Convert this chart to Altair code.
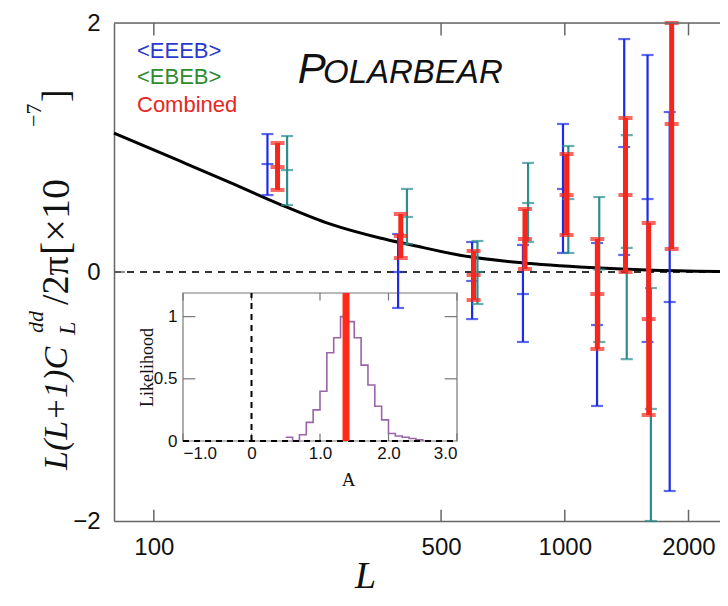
import altair as alt
import pandas as pd

# ---------------- main panel data ----------------
L_DOMAIN = [80, 2386]
V_DOMAIN = [-2, 2]
L_TICKS = [100, 500, 1000, 2000]
V_TICKS = [-2, 0, 2]

curve_L = [80, 116, 153, 202, 268, 355, 426, 556, 750, 1087, 1586, 2386]
curve_V = [1.116, 0.89, 0.72, 0.546, 0.386, 0.273, 0.215, 0.135, 0.08, 0.04, 0.016, 0.004]

blue_L = [189, 393, 595, 791, 990, 1198, 1395, 1590, 1800]
blue_lo = [0.618, -0.289, -0.378, -0.562, 0.153, -1.076, 0.137, -0.562, -1.759]
blue_mid = [0.867, 0.0, -0.072, -0.177, 0.667, -0.426, 1.004, 0.586, -0.241]
blue_hi = [1.108, 0.305, 0.241, 0.217, 1.189, 0.233, 1.871, 1.743, 1.285]

teal_L = [211, 413, 613, 814, 1020, 1213, 1415, 1620]
teal_lo = [0.538, 0.225, -0.257, 0.241, 0.153, -0.562, -0.699, -2.0]
teal_mid = [0.819, 0.442, 0.0, 0.554, 0.586, 0.02, 0.193, -1.1]
teal_hi = [1.092, 0.667, 0.249, 0.876, 1.012, 0.602, 1.100, -0.129]

red_L = [200, 399, 600, 800, 1010, 1200, 1405, 1600, 1820]
red_lo = [0.659, 0.112, -0.225, 0.024, 0.297, -0.618, 0.0, -1.149, 0.185]
red_mid = [0.843, 0.289, -0.024, 0.265, 0.618, -0.177, 0.618, -0.378, 1.189]
red_hi = [1.036, 0.466, 0.169, 0.506, 0.948, 0.265, 1.237, 0.394, 2.0]

legend_labels = ["<EEEB>", "<EBEB>", "Combined"]
legend_colors = ["#2a3ad0", "#2e8c2e", "#e8261e"]
legend_L = [91, 91, 91]
legend_V = [1.775, 1.566, 1.341]

title_parts = ["P", "OLARBEAR"]
title_L = [224, 258]
title_V = [1.518, 1.518]
title_sizes = [42, 33]

# ---------------- inset data ----------------
A_DOMAIN = [-1, 3]
H_DOMAIN = [0, 1.19]
A_TICKS = [-1, 0, 1, 2, 3]
H_TICKS = [0, 0.5, 1]
hist_A = [0.5, 0.6, 0.7, 0.8, 0.9, 1.0, 1.1, 1.2, 1.3, 1.4, 1.5, 1.6, 1.7,
          1.8, 1.9, 2.0, 2.1, 2.2, 2.3, 2.4, 2.5]
hist_h = [0.03, 0.0, 0.05, 0.15, 0.25, 0.40, 0.71, 0.83, 1.0, 0.96, 0.83, 0.61,
          0.45, 0.28, 0.17, 0.06, 0.04, 0.03, 0.02, 0.01, 0.0]
A_best = [1.38]

BLUE = "#1d2be6"
TEAL = "#2b8d8d"
RED = "#f5271c"
FRAME = "#666666"

PLOT_W = 606
PLOT_H = 498

# ---------------- scales / axes ----------------
xs = alt.Scale(type="log", domain=L_DOMAIN, nice=False)
ys = alt.Scale(domain=V_DOMAIN, nice=False, zero=False)

ax_x = alt.Axis(values=L_TICKS, format="d", ticks=False, grid=False, orient="bottom",
                domainColor=FRAME, domainWidth=1.5,
                labelFont="Liberation Sans", labelFontSize=24, labelColor="#111",
                labelPadding=14,
                title="L", titleFont="Liberation Serif", titleFontStyle="italic",
                titleFontWeight="normal", titleFontSize=38, titleColor="#111",
                titleX=251, titleY=66, titleBaseline="alphabetic", titleAlign="center")
ax_y = alt.Axis(values=V_TICKS, format="d", ticks=False, grid=False, orient="left",
                domainColor=FRAME, domainWidth=1.5,
                labelFont="Liberation Sans", labelFontSize=24, labelColor="#111",
                labelPadding=14, title="")

X = lambda f: alt.X(f, scale=xs, axis=ax_x)
Y = lambda f: alt.Y(f, scale=ys, axis=ax_y)

# frame top line, zero line, inward ticks
frame_df = pd.DataFrame({"L": [L_DOMAIN[0]], "L2": [L_DOMAIN[1]], "v": [V_DOMAIN[1]]})
top_line = alt.Chart(frame_df).mark_rule(color=FRAME, strokeWidth=1.5).encode(
    x=X("L:Q"), x2="L2:Q", y=Y("v:Q"))
zero_df = pd.DataFrame({"L": [L_DOMAIN[0]], "L2": [L_DOMAIN[1]], "v": [0]})
zero_line = alt.Chart(zero_df).mark_rule(color="#333", strokeWidth=2, strokeDash=[7, 6]).encode(
    x=X("L:Q"), x2="L2:Q", y=Y("v:Q"))

tick_rows = []
for t in L_TICKS:
    tick_rows.append({"L": t, "v": V_DOMAIN[1], "v2": V_DOMAIN[1] - 0.1})
    tick_rows.append({"L": t, "v": V_DOMAIN[0], "v2": V_DOMAIN[0] + 0.09})
xticks = alt.Chart(pd.DataFrame(tick_rows)).mark_rule(color=FRAME, strokeWidth=1.5).encode(
    x=X("L:Q"), y=Y("v:Q"), y2="v2:Q")
yticks = alt.Chart(pd.DataFrame({"L": [L_DOMAIN[0]], "L2": [85], "v": [0]})).mark_rule(
    color=FRAME, strokeWidth=1.5).encode(x=X("L:Q"), x2="L2:Q", y=Y("v:Q"))

curve = alt.Chart(pd.DataFrame({"L": curve_L, "v": curve_V})).mark_line(
    color="black", strokeWidth=3, interpolate="monotone").encode(x=X("L:Q"), y=Y("v:Q"))


def errbar(Ls, lo, mid, hi, color, lw, capw, capt):
    df = pd.DataFrame({"L": Ls, "lo": lo, "mid": mid, "hi": hi})
    rule = alt.Chart(df).mark_rule(color=color, strokeWidth=lw).encode(
        x=X("L:Q"), y=Y("lo:Q"), y2="hi:Q")
    caps = alt.Chart(df).transform_fold(["lo", "mid", "hi"], as_=["k", "v"]).mark_tick(
        color=color, orient="horizontal", size=capw, thickness=capt).encode(
        x=X("L:Q"), y=Y("v:Q"))
    return [rule, caps]


bars = (errbar(blue_L, blue_lo, blue_mid, blue_hi, BLUE, 2.2, 12, 2.2)
        + errbar(teal_L, teal_lo, teal_mid, teal_hi, TEAL, 2.2, 12, 2.2)
        + errbar(red_L, red_lo, red_mid, red_hi, RED, 5, 14, 4))

legend = alt.Chart(pd.DataFrame({"L": legend_L, "v": legend_V, "t": legend_labels,
                                 "c": legend_colors})).mark_text(
    align="left", baseline="middle", font="Liberation Sans", fontSize=22).encode(
    x=X("L:Q"), y=Y("v:Q"), text="t:N", color=alt.Color("c:N", scale=None))

title = alt.Chart(pd.DataFrame({"L": title_L, "v": title_V, "t": title_parts,
                                "s": title_sizes})).mark_text(
    align="left", baseline="alphabetic", font="Liberation Sans", fontStyle="italic",
    color="#111").encode(
    x=X("L:Q"), y=Y("v:Q"), text="t:N", size=alt.Size("s:Q", scale=None))

# y-axis title built from pieces (rotated), positions in plot pixels
yt_text = ["L(L+1)C", "L", "dd", "/2\u03c0", "[\u00d710", "\u22127", "]"]
yt_x = [-57, -46, -78, -57, -57, -80, -57]
yt_y = [447, 312, 310, 282, 232, 104, 79]
yt_size = [34, 24, 22, 38, 40, 22, 38]
yt_style = ["italic", "italic", "italic", "normal", "normal", "normal", "normal"]
ytitle = []
for t, px, py, s, st in zip(yt_text, yt_x, yt_y, yt_size, yt_style):
    ytitle.append(alt.Chart(pd.DataFrame({"t": [t]})).mark_text(
        angle=270, align="left", baseline="middle", font="Liberation Serif",
        fontStyle=st, fontSize=s, color="#111").encode(
        x=alt.value(px), y=alt.value(py), text="t:N"))

main = alt.layer(zero_line, curve, *bars, top_line, xticks, yticks, legend, title, *ytitle)

# ---------------- inset ----------------
xi = alt.Scale(domain=A_DOMAIN, range=[69, 343], nice=False, zero=False)
yi = alt.Scale(domain=H_DOMAIN, range=[418, 270], nice=False, zero=False)
ax_ix = alt.Axis(values=A_TICKS, labelExpr="datum.value == 0 ? '0' : format(datum.value, '.1f')",
                 offset=-80, domain=False, ticks=False, grid=False,
                 labelFont="Liberation Sans", labelFontSize=17, labelColor="#111", labelPadding=4,
                 title="A", titleFont="Liberation Serif", titleFontWeight="normal",
                 titleFontSize=19, titleColor="#111", titleX=234, titleY=44,
                 titleBaseline="alphabetic", titleAlign="center", orient="bottom")
ax_iy = alt.Axis(values=H_TICKS, format="~g", offset=-69, domain=False, ticks=False, grid=False,
                 labelFont="Liberation Sans", labelFontSize=17, labelColor="#111", labelPadding=6,
                 title="Likelihood", titleFont="Liberation Serif", titleFontWeight="normal",
                 titleFontSize=18, titleColor="#111", titleX=-36, titleY=344,
                 titleAngle=270, titleAlign="center", titleBaseline="middle", orient="left")
XI = lambda f: alt.X(f, scale=xi, axis=ax_ix)
YI = lambda f: alt.Y(f, scale=yi, axis=ax_iy)

box = alt.Chart(pd.DataFrame({"A": [A_DOMAIN[0]], "A2": [A_DOMAIN[1]], "h": [H_DOMAIN[0]],
                              "h2": [H_DOMAIN[1]]})).mark_rect(
    fillOpacity=0, stroke="#777", strokeWidth=1.2).encode(
    x=XI("A:Q"), x2="A2:Q", y=YI("h:Q"), y2="h2:Q")

it_rows = []
for a in A_TICKS:
    it_rows.append({"A": a, "A2": a, "h": H_DOMAIN[1], "h2": H_DOMAIN[1] - 0.06})
    it_rows.append({"A": a, "A2": a, "h": H_DOMAIN[0], "h2": H_DOMAIN[0] + 0.06})
for h in H_TICKS[1:]:
    it_rows.append({"A": A_DOMAIN[0], "A2": A_DOMAIN[0] + 0.18, "h": h, "h2": h})
    it_rows.append({"A": A_DOMAIN[1], "A2": A_DOMAIN[1] - 0.18, "h": h, "h2": h})
iticks = alt.Chart(pd.DataFrame(it_rows)).mark_rule(color="#777", strokeWidth=1.2).encode(
    x=XI("A:Q"), x2="A2:Q", y=YI("h:Q"), y2="h2:Q")

vdash = alt.Chart(pd.DataFrame({"A": [0], "h": [H_DOMAIN[0]], "h2": [H_DOMAIN[1]]})).mark_rule(
    color="black", strokeWidth=2, strokeDash=[6, 5]).encode(x=XI("A:Q"), y=YI("h:Q"), y2="h2:Q")
hdash = alt.Chart(pd.DataFrame({"A": [A_DOMAIN[0]], "A2": [A_DOMAIN[1]], "h": [0]})).mark_rule(
    color="black", strokeWidth=2, strokeDash=[6, 5]).encode(x=XI("A:Q"), x2="A2:Q", y=YI("h:Q"))

hist = alt.Chart(pd.DataFrame({"A": hist_A, "h": hist_h})).mark_line(
    color="#9a64a8", strokeWidth=1.6, interpolate="step-after").encode(x=XI("A:Q"), y=YI("h:Q"))

best = alt.Chart(pd.DataFrame({"A": A_best, "h": [H_DOMAIN[0]], "h2": [H_DOMAIN[1]]})).mark_rule(
    color="#ff2a1a", strokeWidth=7).encode(x=XI("A:Q"), y=YI("h:Q"), y2="h2:Q")

inset = alt.layer(box, iticks, hist, vdash, hdash, best)

chart = alt.layer(inset, main).resolve_scale(x="independent", y="independent").properties(
    width=PLOT_W, height=PLOT_H, autosize="none",
    padding={"left": 106, "top": 15, "right": 0, "bottom": 76},
).configure_view(stroke=None).configure(background="white")

chart.save("out.html", embed_options={"renderer": "svg", "actions": False})
